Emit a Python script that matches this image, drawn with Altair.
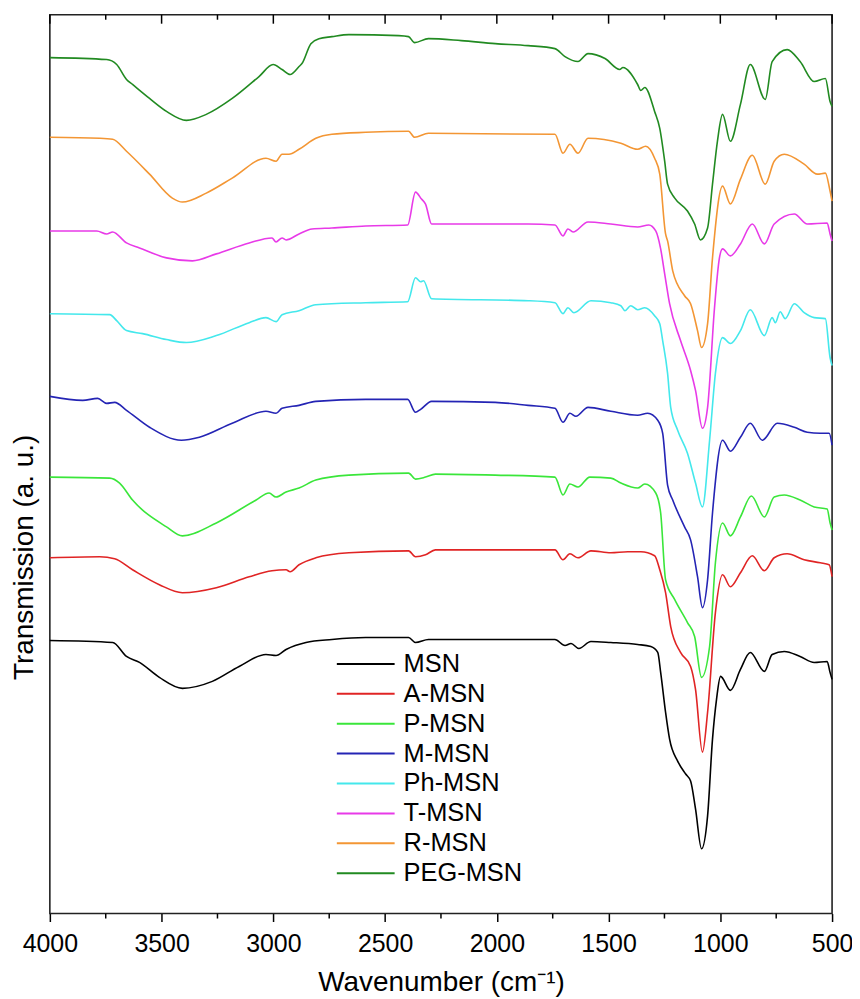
import altair as alt
import pandas as pd

names = ["MSN", "A-MSN", "P-MSN", "M-MSN", "Ph-MSN", "T-MSN", "R-MSN", "PEG-MSN"]
colors = ["#000000", "#e02424", "#3ae63a", "#2424b4", "#44e8ec", "#e83ae8", "#f39634", "#218a21"]

msn_wn = [4000, 3719, 3657, 3599, 3510, 3407, 3273, 3153, 3033, 2988, 2943, 2854, 2738, 2587, 2395, 2364, 2306,
          1740, 1695, 1668, 1633, 1579, 1490, 1370, 1311, 1280, 1267, 1245, 1227, 1191, 1155, 1133, 1111, 1084,
          1057, 1035, 1017, 999, 955, 910, 866, 803, 768, 714, 643, 580, 522, 509, 500]
msn_t = [274, 272, 258, 252, 237, 226, 233, 248, 260, 259, 265, 272, 275, 277, 277, 272, 275,
         275, 269, 271, 266, 273, 272, 270, 268, 262, 242, 202, 175, 153, 140, 133, 105, 65,
         98, 175, 215, 238, 224, 245, 262, 243, 260, 263, 258, 252, 253, 242, 235]

a_wn = [4000, 3777, 3710, 3630, 3510, 3407, 3255, 3108, 3006, 2943, 2925, 2885, 2810, 2662, 2395, 2364, 2319,
        2275, 1740, 1704, 1673, 1637, 1579, 1490, 1414, 1356, 1294, 1271, 1245, 1222, 1178, 1133, 1111, 1080,
        1057, 1022, 990, 955, 910, 857, 803, 759, 701, 625, 553, 513, 500]
a_t = [357, 358, 356, 345, 330, 322, 327, 338, 344, 345, 343, 350, 357, 362, 364, 358, 360,
       365, 365, 355, 361, 357, 364, 362, 363, 363, 359, 345, 322, 288, 262, 248, 225, 162,
       202, 302, 340, 328, 342, 359, 344, 357, 361, 355, 352, 350, 338]

p_wn = [4000, 3732, 3688, 3630, 3478, 3407, 3255, 3077, 3019, 2988, 2943, 2885, 2810, 2662, 2395, 2364, 2319,
        2275, 2007, 1740, 1704, 1673, 1637, 1584, 1490, 1445, 1370, 1338, 1289, 1267, 1245, 1204, 1147, 1115,
        1084, 1048, 1022, 990, 955, 910, 861, 803, 759, 714, 643, 580, 522, 509, 500]
p_t = [438, 437, 432, 415, 388, 379, 392, 415, 422, 418, 423, 427, 435, 440, 442, 436, 438,
       441, 440, 438, 420, 431, 428, 438, 437, 432, 427, 431, 422, 402, 335, 315, 292, 278,
       237, 268, 352, 392, 379, 398, 419, 398, 418, 420, 415, 408, 406, 392, 385]

m_wn = [4000, 3853, 3786, 3746, 3710, 3657, 3554, 3411, 3331, 3184, 3033, 2988, 2961, 2885, 2810, 2587, 2399,
        2364, 2341, 2292, 2007, 1860, 1740, 1704, 1673, 1646, 1592, 1490, 1370, 1325, 1280, 1258, 1236, 1213,
        1160, 1133, 1102, 1080, 1057, 1035, 990, 955, 910, 866, 812, 745, 669, 611, 553, 513, 500]
m_t = [519, 515, 517, 512, 513, 505, 488, 475, 478, 492, 504, 502, 507, 510, 514, 516, 516,
       503, 506, 514, 513, 510, 507, 493, 502, 499, 508, 504, 500, 502, 495, 482, 430, 415,
       388, 375, 338, 307, 335, 402, 475, 464, 478, 492, 475, 492, 488, 483, 482, 482, 470]

ph_wn = [4000, 3732, 3701, 3657, 3585, 3478, 3389, 3255, 3108, 3033, 2988, 2961, 2885, 2810, 2587, 2399, 2364,
         2341, 2328, 2292, 1860, 1740, 1704, 1682, 1655, 1579, 1490, 1445, 1427, 1401, 1370, 1338, 1294, 1271,
         1258, 1236, 1222, 1191, 1147, 1111, 1080, 1048, 1022, 990, 955, 910, 866, 803, 768, 754, 732, 710,
         669, 625, 580, 530, 509, 500]
ph_t = [602, 601, 595, 585, 582, 576, 573, 580, 593, 598, 594, 601, 605, 611, 613, 614, 638,
        634, 635, 617, 615, 613, 602, 608, 603, 615, 613, 610, 605, 610, 606, 608, 600, 592,
        575, 542, 508, 485, 462, 432, 408, 475, 542, 578, 572, 585, 606, 580, 598, 593, 604, 597,
        612, 603, 598, 597, 558, 550]

t_wn = [4000, 3790, 3746, 3719, 3657, 3599, 3478, 3362, 3255, 3108, 3006, 2988, 2961, 2943, 2885, 2827, 2738,
        2587, 2399, 2364, 2337, 2319, 2292, 1860, 1740, 1704, 1682, 1659, 1592, 1490, 1370, 1320, 1289, 1267,
        1249, 1227, 1178, 1133, 1111, 1080, 1057, 1026, 1004, 990, 955, 910, 857, 803, 759, 669, 611, 522,
        509, 500]
t_t = [685, 685, 682, 684, 673, 668, 658, 655, 662, 673, 678, 674, 678, 676, 682, 687, 688,
       690, 691, 724, 717, 712, 692, 692, 691, 680, 687, 684, 694, 692, 689, 691, 685, 667,
       642, 612, 575, 545, 525, 487, 508, 608, 658, 667, 660, 672, 692, 672, 692, 702, 692, 693,
       682, 675]

r_wn = [4000, 3777, 3719, 3657, 3554, 3452, 3407, 3300, 3184, 3033, 2988, 2961, 2930, 2885, 2810, 2738, 2587,
        2395, 2368, 2306, 1740, 1704, 1673, 1637, 1592, 1445, 1370, 1334, 1294, 1271, 1245, 1236, 1213, 1160,
        1133, 1102, 1084, 1057, 1035, 990, 955, 910, 857, 799, 759, 714, 625, 566, 530, 509, 500]
r_t = [779, 778, 777, 765, 742, 718, 714, 723, 738, 758, 755, 762, 762, 767, 778, 782, 784,
       785, 779, 783, 782, 763, 772, 763, 778, 773, 767, 770, 758, 742, 682, 675, 645, 620,
       612, 585, 568, 592, 658, 730, 712, 737, 761, 732, 755, 762, 752, 742, 743, 725, 715]

peg_wn = [4000, 3746, 3701, 3657, 3630, 3554, 3478, 3389, 3300, 3184, 3064, 3001, 2961, 2925, 2885, 2872, 2832,
          2796, 2738, 2662, 2439, 2395, 2368, 2306, 2159, 2007, 1860, 1740, 1695, 1637, 1592, 1516, 1450, 1436,
          1370, 1356, 1338, 1294, 1271, 1249, 1236, 1204, 1147, 1115, 1089, 1057, 1035, 1013, 990, 955, 910,
          866, 799, 768, 701, 643, 580, 530, 509, 500]
peg_t = [859, 857, 852, 837, 832, 818, 805, 796, 802, 818, 840, 852, 847, 842, 850, 853, 873,
         878, 880, 882, 881, 880, 874, 878, 876, 873, 871, 868, 860, 855, 863, 858, 847, 849,
         832, 826, 829, 805, 788, 755, 732, 718, 705, 692, 676, 688, 732, 775, 802, 775, 812,
         852, 817, 855, 867, 855, 835, 838, 815, 810]

major_ticks = [4000, 3500, 3000, 2500, 2000, 1500, 1000, 500]
minor_ticks = [3750, 3250, 2750, 2250, 1750, 1250, 750]

series = [(msn_wn, msn_t), (a_wn, a_t), (p_wn, p_t), (m_wn, m_t),
          (ph_wn, ph_t), (t_wn, t_t), (r_wn, r_t), (peg_wn, peg_t)]
rows = []
for name, (wn, tv) in zip(names, series):
    if len(wn) != len(tv):
        raise ValueError(f"length mismatch in {name}: {len(wn)} vs {len(tv)}")
    for w, v in zip(wn, tv):
        rows.append({"series": name, "wn": w, "t": v})
df = pd.DataFrame(rows)

FONT = "Liberation Sans"
xscale = alt.Scale(domain=[500, 4000], reverse=True, nice=False, zero=False)
yscale = alt.Scale(domain=[0, 902], nice=False, zero=False)

lines = alt.Chart(df).mark_line(strokeWidth=1.6, interpolate="monotone").encode(
    x=alt.X("wn:Q", scale=xscale,
            axis=alt.Axis(values=major_ticks, format="d", title="Wavenumber (cm\u207b\u00b9)",
                          domain=False, grid=False, tickSize=8, tickWidth=1.5, tickColor="#000",
                          labelFontSize=25, labelFont=FONT, labelColor="#000", labelPadding=10,
                          labelFlush=False, labelOverlap=False,
                          titleFontSize=28, titleFont=FONT, titleFontWeight="normal",
                          titleColor="#000", titleY=55, titleBaseline="top")),
    y=alt.Y("t:Q", scale=yscale,
            axis=alt.Axis(domain=False, ticks=False, labels=False, grid=False,
                          title="Transmission (a. u.)", titleFontSize=28, titleFont=FONT,
                          titleFontWeight="normal", titleColor="#000",
                          titleX=-17, titleY=544, titleAngle=270, titleAlign="center",
                          titleBaseline="alphabetic")),
    color=alt.Color("series:N", scale=alt.Scale(domain=names, range=colors),
                    legend=alt.Legend(orient="none", legendX=287, legendY=636, title=None,
                                      symbolType="M-1,0H3", symbolSize=841, symbolStrokeWidth=2,
                                      labelOffset=37, labelFontSize=25.5, labelFont=FONT,
                                      labelColor="#000", rowPadding=1, padding=0)),
    order=alt.Order("wn:Q"),
)

tick_df = pd.DataFrame({"wn": major_ticks + minor_ticks,
                        "kind": ["major"] * len(major_ticks) + ["minor"] * len(minor_ticks)})

top_major = alt.Chart(tick_df).transform_filter(alt.datum.kind == "major").mark_rule(
    color="#000", strokeWidth=1.5).encode(
    x=alt.X("wn:Q", scale=xscale), y=alt.value(0), y2=alt.value(9))
top_minor = alt.Chart(tick_df).transform_filter(alt.datum.kind == "minor").mark_rule(
    color="#000", strokeWidth=1.5).encode(
    x=alt.X("wn:Q", scale=xscale), y=alt.value(0), y2=alt.value(5))
bottom_minor = alt.Chart(tick_df).transform_filter(alt.datum.kind == "minor").mark_rule(
    color="#000", strokeWidth=1.5).encode(
    x=alt.X("wn:Q", scale=xscale), y=alt.value(902), y2=alt.value(907))

chart = alt.layer(lines, top_major, top_minor, bottom_minor).properties(
    width=785, height=902,
    autosize=alt.AutoSizeParams(type="none"),
    padding={"left": 42, "top": 5, "right": 20, "bottom": 82},
    background="white",
).configure_view(stroke="#222", strokeWidth=1.6)

chart.save("out.html", embed_options={"renderer": "svg", "actions": False})
